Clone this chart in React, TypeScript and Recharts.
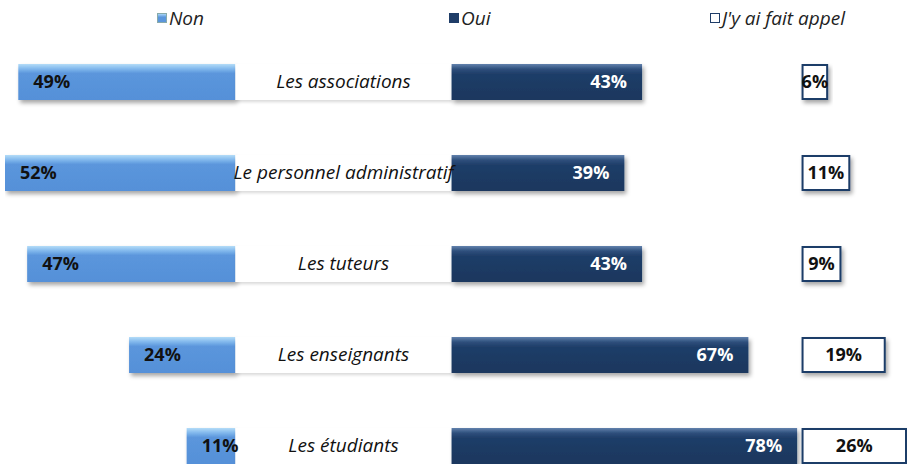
import { Bar, BarChart, LabelList, Legend, XAxis, YAxis } from "recharts";

const categories = [
  "Les associations",
  "Le personnel administratif",
  "Les tuteurs",
  "Les enseignants",
  "Les étudiants",
];
const nonValues = [49, 52, 47, 24, 11];
const ouiValues = [43, 39, 43, 67, 78];
const appelValues = [6, 11, 9, 19, 26];

// room (in % units) kept for the category names and before the "appel" column
const LABEL_SPAN = 48.8;
const OUI_SPAN = 79;
const maxNon = Math.max(...nonValues);

const data = categories.map((name, i) => ({
  name,
  pad: maxNon - nonValues[i],
  non: nonValues[i],
  label: LABEL_SPAN,
  oui: ouiValues[i],
  gap: OUI_SPAN - ouiValues[i],
  appel: appelValues[i],
}));

const FONT = "'Open Sans', Lato, sans-serif";

const NonShape = (props: any) => {
  const { x, y, width, height } = props;
  if (!width || width <= 0) return null;
  return <rect x={x} y={y} width={width} height={height} fill="url(#gNon)" filter="url(#shadow)" />;
};

const OuiShape = (props: any) => {
  const { x, y, width, height } = props;
  if (!width || width <= 0) return null;
  return <rect x={x} y={y} width={width} height={height} fill="url(#gOui)" filter="url(#shadow)" />;
};

const LabelShape = (props: any) => {
  const { x, y, width, height } = props;
  return <rect x={x} y={y} width={width} height={height} fill="#ffffff" filter="url(#shadowLight)" />;
};

const AppelShape = (props: any) => {
  const { x, y, width, height } = props;
  return (
    <rect
      x={x + 1}
      y={y + 1}
      width={width - 2}
      height={height - 2}
      fill="#ffffff"
      stroke="#1f3d68"
      strokeWidth={2}
      filter="url(#shadow)"
    />
  );
};

const NonLabel = (props: any) => {
  const { x, y, height, value } = props;
  return (
    <text x={x + 15} y={y + height / 2 + 6} fontFamily={FONT} fontSize={18} fontWeight={700} fill="#111">
      {value}%
    </text>
  );
};

const OuiLabel = (props: any) => {
  const { x, y, width, height, value } = props;
  return (
    <text x={x + width - 15} y={y + height / 2 + 6} textAnchor="end" fontFamily={FONT} fontSize={18} fontWeight={700} fill="#fff">
      {value}%
    </text>
  );
};

const AppelLabel = (props: any) => {
  const { x, y, width, height, value } = props;
  return (
    <text x={x + width / 2} y={y + height / 2 + 6} textAnchor="middle" fontFamily={FONT} fontSize={18} fontWeight={700} fill="#111">
      {value}%
    </text>
  );
};

const NameLabel = (props: any) => {
  const { x, y, width, height, value } = props;
  return (
    <text x={x + width / 2} y={y + height / 2 + 6} textAnchor="middle" fontFamily={FONT} fontSize={19} fontStyle="italic" fill="#111">
      {value}
    </text>
  );
};

const legendLeft: Record<string, number> = { non: 157, oui: 449, appel: 710 };
const legendIcon: Record<string, any> = {
  non: { background: "linear-gradient(#a8d4f7, #5b96dc 40%)", border: "1px solid #8aa" },
  oui: { background: "#1f3d68", border: "1px solid #1f3d68" },
  appel: { background: "#fff", border: "1px solid #1f3d68" },
};

const renderLegend = (props: any) => {
  const items = (props.payload || []).filter((p: any) => legendLeft[p.dataKey] !== undefined);
  return (
    <div style={{ position: "relative", height: 30, width: 907 }}>
      {items.map((p: any) => (
        <div
          key={p.dataKey}
          style={{
            position: "absolute",
            left: legendLeft[p.dataKey],
            top: 6,
            display: "flex",
            alignItems: "center",
            fontFamily: FONT,
            fontStyle: "italic",
            fontSize: 19,
            lineHeight: "24px",
            color: "#222",
          }}
        >
          <span style={{ display: "inline-block", width: 8, height: 8, marginRight: 2, ...legendIcon[p.dataKey] }} />
          {p.value}
        </div>
      ))}
    </div>
  );
};

export default function App() {
  return (
    <div style={{ position: "absolute", left: 0, top: 0, width: 907, height: 464, overflow: "hidden", background: "#fff" }}>
      <BarChart
        width={907}
        height={491}
        data={data}
        layout="vertical"
        barSize={36}
        margin={{ top: 6, right: 0, bottom: 0, left: 5 }}
      >
        <defs>
          <linearGradient id="gNon" x1="0" y1="0" x2="0" y2="1">
            <stop offset="0%" stopColor="#b4dcf8" />
            <stop offset="14%" stopColor="#7fb6ec" />
            <stop offset="26%" stopColor="#5b96dc" />
            <stop offset="100%" stopColor="#5590d8" />
          </linearGradient>
          <linearGradient id="gOui" x1="0" y1="0" x2="0" y2="1">
            <stop offset="0%" stopColor="#6282ad" />
            <stop offset="14%" stopColor="#2e4f7c" />
            <stop offset="28%" stopColor="#1f3d68" />
            <stop offset="100%" stopColor="#1b375e" />
          </linearGradient>
          <filter id="shadow" x="-10%" y="-20%" width="130%" height="160%">
            <feDropShadow dx="2" dy="3" stdDeviation="2" floodColor="#000" floodOpacity="0.35" />
          </filter>
          <filter id="shadowLight" x="-10%" y="-20%" width="130%" height="160%">
            <feDropShadow dx="1" dy="2" stdDeviation="1.5" floodColor="#000" floodOpacity="0.15" />
          </filter>
        </defs>
        <XAxis type="number" hide domain={[0, 203.6]} allowDataOverflow />
        <YAxis type="category" dataKey="name" hide />
        <Legend verticalAlign="top" align="left" content={renderLegend} wrapperStyle={{ left: 0, top: 0 }} />
        <Bar dataKey="pad" stackId="a" fill="transparent" legendType="none" isAnimationActive={false} />
        <Bar dataKey="non" name="Non" stackId="a" shape={NonShape} isAnimationActive={false}>
          <LabelList dataKey="non" content={NonLabel} />
        </Bar>
        <Bar dataKey="label" stackId="a" shape={LabelShape} legendType="none" isAnimationActive={false}>
          <LabelList dataKey="name" content={NameLabel} />
        </Bar>
        <Bar dataKey="oui" name="Oui" stackId="a" shape={OuiShape} isAnimationActive={false}>
          <LabelList dataKey="oui" content={OuiLabel} />
        </Bar>
        <Bar dataKey="gap" stackId="a" fill="transparent" legendType="none" isAnimationActive={false} />
        <Bar dataKey="appel" name="J'y ai fait appel" stackId="a" shape={AppelShape} isAnimationActive={false}>
          <LabelList dataKey="appel" content={AppelLabel} />
        </Bar>
      </BarChart>
    </div>
  );
}
